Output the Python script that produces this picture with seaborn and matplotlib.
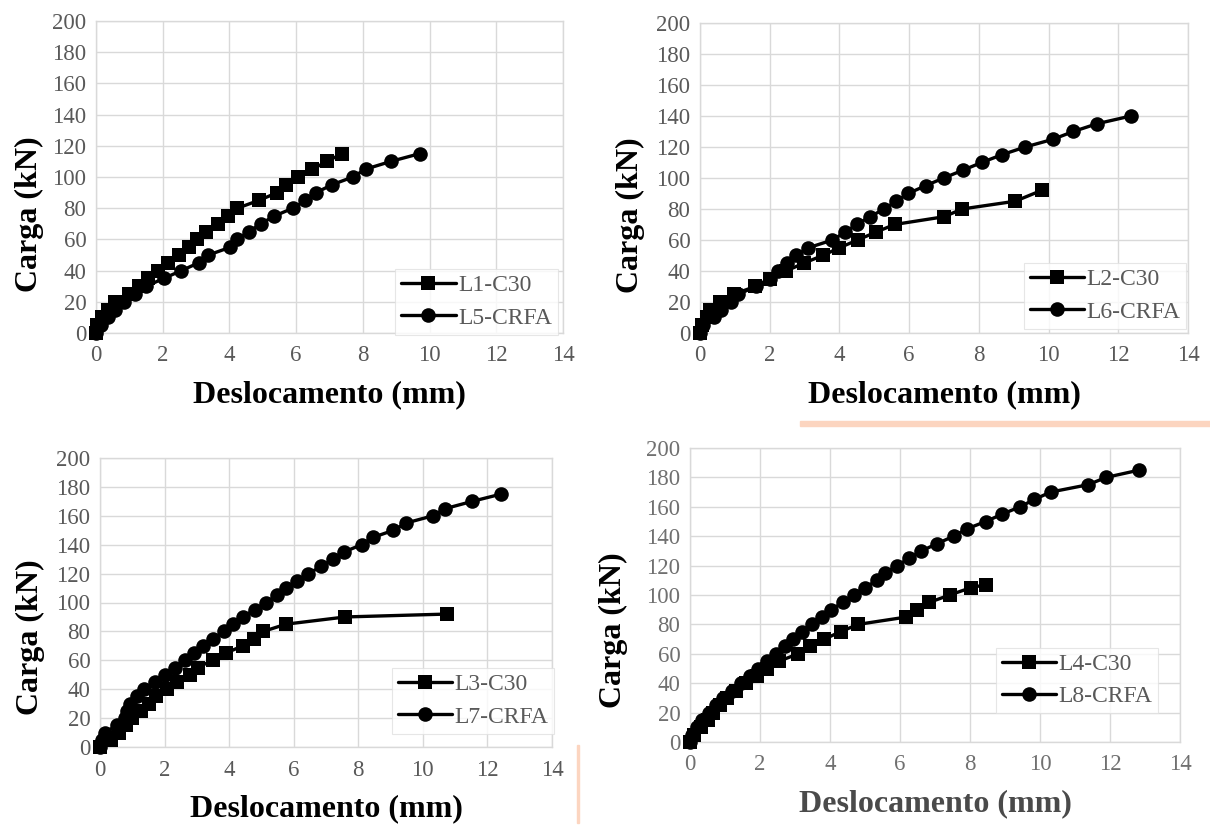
import numpy as np
import pandas as pd
import matplotlib.pyplot as plt
import matplotlib.patches as mpatches
import seaborn as sns

# Panel 1 - L1-C30 / L5-CRFA
l1_x = [0, 0.02, 0.17, 0.35, 0.58, 0.99, 1.28, 1.57, 1.86, 2.15, 2.5, 2.79, 3.02, 3.31,
        3.66, 3.95, 4.24, 4.88, 5.44, 5.7, 6.05, 6.49, 6.92, 7.38]
l1_y = [0, 5, 10, 15, 20, 25, 30, 35, 40, 45, 50, 55, 60, 65, 70, 75, 80, 85, 90, 95,
        100, 105, 110, 115]
l5_x = [0, 0.14, 0.35, 0.58, 0.84, 1.16, 1.51, 2.03, 2.56, 3.08, 3.37, 4.03, 4.24, 4.59,
        4.94, 5.35, 5.9, 6.28, 6.6, 7.07, 7.7, 8.08, 8.84, 9.71]
l5_y = [0, 5, 10, 15, 20, 25, 30, 35, 40, 45, 50, 55, 60, 65, 70, 75, 80, 85, 90, 95,
        100, 105, 110, 115]

# Panel 2 - L2-C30 / L6-CRFA
l2_x = [0, 0.05, 0.2, 0.3, 0.58, 0.97, 1.58, 2.0, 2.47, 2.97, 3.52, 4.0, 4.52, 5.04,
        5.58, 7.0, 7.52, 9.04, 9.8]
l2_y = [0, 5, 10, 15, 20, 25, 30, 35, 40, 45, 50, 55, 60, 65, 70, 75, 80, 85, 92]
l6_x = [0, 0.1, 0.4, 0.6, 0.9, 1.1, 1.6, 2.0, 2.25, 2.5, 2.75, 3.11, 3.8, 4.16, 4.49,
        4.88, 5.28, 5.63, 5.97, 6.47, 6.99, 7.54, 8.08, 8.66, 9.33, 10.13, 10.71,
        11.39, 12.36]
l6_y = [0, 5, 10, 15, 20, 25, 30, 35, 40, 45, 50, 55, 60, 65, 70, 75, 80, 85, 90, 95,
        100, 105, 110, 115, 120, 125, 130, 135, 140]

# Panel 3 - L3-C30 / L7-CRFA
l3_x = [0, 0.35, 0.58, 0.81, 0.99, 1.28, 1.51, 1.74, 2.09, 2.38, 2.79, 3.02, 3.49, 3.9,
        4.42, 4.77, 5.06, 5.76, 7.6, 10.76]
l3_y = [0, 5, 10, 15, 20, 25, 30, 35, 40, 45, 50, 55, 60, 65, 70, 75, 80, 85, 90, 92]
l7_x = [0, 0.06, 0.15, 0.52, 0.76, 0.85, 0.93, 1.16, 1.36, 1.69, 2.0, 2.33, 2.62, 2.91,
        3.2, 3.51, 3.84, 4.13, 4.42, 4.79, 5.14, 5.49, 5.76, 6.1, 6.45, 6.86, 7.21,
        7.56, 8.1, 8.45, 9.09, 9.48, 10.31, 10.7, 11.53, 12.42]
l7_y = [0, 5, 10, 15, 20, 25, 30, 35, 40, 45, 50, 55, 60, 65, 70, 75, 80, 85, 90, 95,
        100, 105, 110, 115, 120, 125, 130, 135, 140, 145, 150, 155, 160, 165, 170, 175]

# Panel 4 - L4-C30 / L8-CRFA
l4_x = [0, 0.1, 0.3, 0.5, 0.65, 0.85, 1.05, 1.3, 1.6, 1.9, 2.2, 2.55, 3.09, 3.44, 3.84,
        4.3, 4.8, 6.18, 6.49, 6.84, 7.42, 8.03, 8.45]
l4_y = [0, 5, 10, 15, 20, 25, 30, 35, 40, 45, 50, 55, 60, 65, 70, 75, 80, 85, 90, 95,
        100, 105, 107]
l8_x = [0, 0.05, 0.2, 0.35, 0.55, 0.75, 0.95, 1.2, 1.45, 1.7, 1.95, 2.2, 2.45, 2.7,
        2.95, 3.2, 3.49, 3.78, 4.04, 4.36, 4.68, 5.0, 5.34, 5.57, 5.92, 6.26, 6.61,
        7.07, 7.53, 7.91, 8.45, 8.92, 9.43, 9.84, 10.3, 11.37, 11.89, 12.84]
l8_y = [0, 5, 10, 15, 20, 25, 30, 35, 40, 45, 50, 55, 60, 65, 70, 75, 80, 85, 90, 95,
        100, 105, 110, 115, 120, 125, 130, 135, 140, 145, 150, 155, 160, 165, 170, 175,
        180, 185]

x_ticks = [0, 2, 4, 6, 8, 10, 12, 14]
y_ticks = [0, 20, 40, 60, 80, 100, 120, 140, 160, 180, 200]

panels = [
    # series A, series B, axes rect in px (left, top, right, bottom), legend box, ylabel x, dim
    (("L1-C30", l1_x, l1_y), ("L5-CRFA", l5_x, l5_y), (96, 21, 563, 333),
     (0.64, 0.0, 0.35, 0.2), -0.112, False),
    (("L2-C30", l2_x, l2_y), ("L6-CRFA", l6_x, l6_y), (700, 23, 1188, 333),
     (0.67, 0.02, 0.32, 0.2), -0.113, False),
    (("L3-C30", l3_x, l3_y), ("L7-CRFA", l7_x, l7_y), (100, 458, 552, 747),
     (0.66, 0.05, 0.33, 0.22), -0.122, False),
    (("L4-C30", l4_x, l4_y), ("L8-CRFA", l8_x, l8_y), (690, 448, 1180, 742),
     (0.62, 0.1, 0.34, 0.22), -0.127, True),
]

sns.set_theme(style="white")
plt.rcParams["font.family"] = ["Liberation Serif", "DejaVu Serif"]

W, H = 1210, 825
fig = plt.figure(figsize=(W / 100, H / 100), dpi=100)

for (sa, sb, (l, t, r, b), leg_box, ylab_x, dim) in panels:
    ax = fig.add_axes([l / W, 1 - b / H, (r - l) / W, (b - t) / H])
    df_a = pd.DataFrame({"x": sa[1], "y": sa[2]})
    df_b = pd.DataFrame({"x": sb[1], "y": sb[2]})
    sns.lineplot(data=df_a, x="x", y="y", ax=ax, color="black", marker="s", markersize=9.5,
                 linewidth=2.4, sort=False, estimator=None, label=sa[0], markeredgewidth=0,
                 clip_on=False, zorder=3)
    sns.lineplot(data=df_b, x="x", y="y", ax=ax, color="black", marker="o", markersize=10.5,
                 linewidth=2.4, sort=False, estimator=None, label=sb[0], markeredgewidth=0,
                 clip_on=False, zorder=3)
    ax.set_xlim(0, 14)
    ax.set_ylim(0, 200)
    ax.set_xticks(x_ticks)
    ax.set_yticks(y_ticks)
    tick_col = "#707070" if dim else "#595959"
    ax.tick_params(axis="both", labelsize=16.5, colors=tick_col, length=0)
    ax.tick_params(axis="x", pad=9)
    ax.tick_params(axis="y", pad=7)
    ax.grid(True, color="#d9d9d9", linewidth=1)
    ax.set_axisbelow(True)
    for s in ax.spines.values():
        s.set_color("#d9d9d9")
        s.set_linewidth(1)
    lab_col = "#4a4a4a" if dim else "black"
    ax.set_xlabel("Deslocamento (mm)", fontsize=23, fontweight="bold", color=lab_col, labelpad=10)
    ax.set_ylabel("Carga (kN)", fontsize=23, fontweight="bold", color="black")
    ax.yaxis.set_label_coords(ylab_x, 0.38)
    leg = ax.legend(loc="center", bbox_to_anchor=leg_box, fontsize=17, frameon=True,
                    facecolor="white", edgecolor="#e0e0e0", fancybox=False,
                    handlelength=2.3, handletextpad=0.1, borderpad=0.25, labelspacing=0.45,
                    borderaxespad=0)
    leg.get_frame().set_linewidth(0.8)
    for txt in leg.get_texts():
        txt.set_color("#595959")

# scan artefacts from the source figure
fig.patches.append(mpatches.Rectangle((800 / W, 1 - 426 / H), 410 / W, 5 / H,
                                      transform=fig.transFigure, color="#fcd5c0", zorder=0))
fig.patches.append(mpatches.Rectangle((577 / W, 1 - 823 / H), 1.5 / W, 78 / H,
                                      transform=fig.transFigure, color="#fcd5c0", zorder=0))

fig.savefig("out.png", dpi=100)
